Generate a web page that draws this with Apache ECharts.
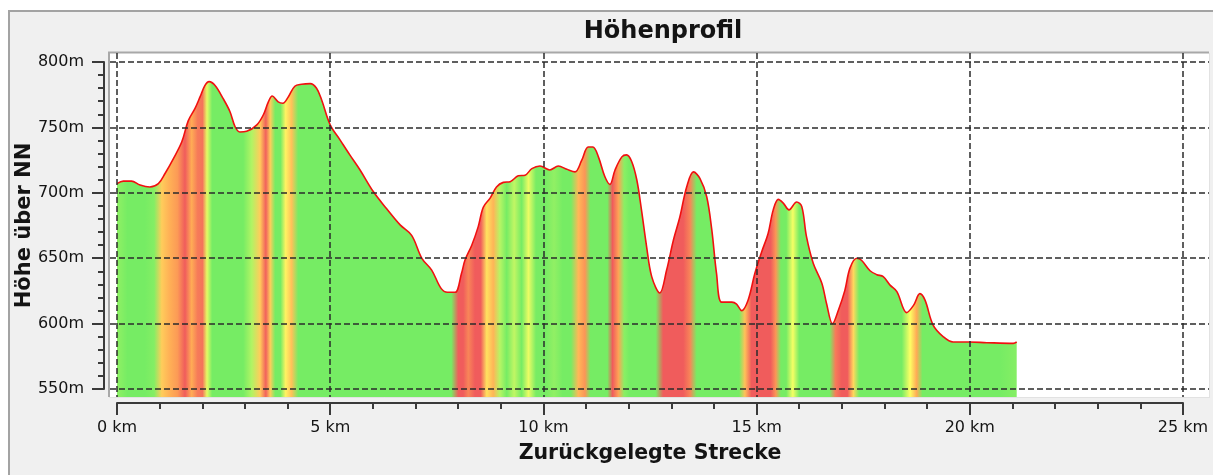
<!DOCTYPE html>
<html>
<head>
<meta charset="utf-8">
<title>Höhenprofil</title>
<script src="https://cdn.jsdelivr.net/npm/echarts@6/dist/echarts.min.js"></script>
<style>
  html, body { margin: 0; padding: 0; background: #fff; }
  #chart { width: 1227px; height: 475px; }
</style>
</head>
<body>
<div id="chart"></div>
<script>
// distance along the track (km) and elevation (m)
const distKm = [
  0.00, 0.15, 0.34, 0.54, 0.77, 0.97, 1.13, 1.32, 1.52, 1.67, 1.83, 1.95, 2.06, 2.16, 2.30,
  2.49, 2.65, 2.77, 2.88, 3.04, 3.28, 3.43, 3.55, 3.64, 3.78, 3.89, 4.02, 4.17, 4.33, 4.53,
  4.68, 4.80, 5.00, 5.23, 5.46, 5.70, 6.01, 6.32, 6.64, 6.91, 7.15, 7.38, 7.60, 7.75, 7.93,
  8.08, 8.16, 8.32, 8.47, 8.59, 8.75, 8.90, 9.06, 9.22, 9.41, 9.57, 9.73, 9.92, 10.15, 10.35,
  10.55, 10.74, 10.90, 11.05, 11.16, 11.29, 11.44, 11.56, 11.68, 11.84, 11.95, 12.07, 12.19, 12.30, 12.42,
  12.54, 12.73, 12.89, 13.05, 13.20, 13.36, 13.52, 13.67, 13.83, 13.95, 14.06, 14.18, 14.42, 14.53, 14.65,
  14.80, 14.96, 15.12, 15.27, 15.39, 15.51, 15.63, 15.76, 15.94, 16.06, 16.17, 16.33, 16.53, 16.64, 16.78,
  16.92, 17.07, 17.19, 17.35, 17.46, 17.66, 17.82, 17.97, 18.13, 18.29, 18.52, 18.68, 18.83, 18.95, 19.14,
  19.38, 19.61, 20.00, 20.40, 21.02, 21.10
]
const elevM = [
  707, 709, 709, 706, 704.5, 707, 715, 726, 739, 755, 764.5, 773.5, 782, 785, 782,
  772, 762, 750.5, 746.5, 747, 752, 759.5, 769.5, 774, 769.5, 768.5, 773.5, 781.5, 783, 783.5,
  780, 771, 752, 740.5, 729, 717.5, 701, 688, 675.5, 667.5, 650, 641, 627, 624, 624,
  638.5, 648.5, 660, 674, 689, 696, 704.5, 708, 708.5, 713, 713.5, 718.5, 720.5, 717.5, 720.5,
  718, 716, 725, 735, 735, 727.5, 712.5, 706.5, 717.5, 727.5, 729, 724, 710, 687, 659,
  636, 623.5, 641, 664, 681.5, 704.5, 716, 711, 697, 671.5, 638.5, 616.5, 616.5, 615, 610,
  618, 638.5, 655, 669, 687, 695, 692, 687, 693, 689.5, 666.5, 646, 631, 615.5, 600,
  610.5, 625.5, 642.5, 650, 648.5, 640.5, 637.5, 636, 629.5, 624.5, 608.5, 614, 623, 618, 599,
  590, 586, 586, 585.5, 585, 586
]
const xTicks = [0, 5, 10, 15, 20, 25]
const yTicks = [550, 600, 650, 700, 750, 800]

const fontFamily = 'DejaVu Sans'
const textColor = '#141414'
const gridDash = { color: '#2b2b2b', width: 1.5, type: [6, 3] }

// colour of the fill follows the climbing grade (%)
const green = [118, 236, 100]
const yellow = [255, 255, 100]
const orange = [255, 170, 85]
const red = [240, 92, 92]

function mix(a, b, t) {
  t = Math.max(0, Math.min(1, t))
  return a.map((v, i) => Math.round(v + (b[i] - v) * t))
}

function gradeColor(g) {
  let c
  if (g <= 1) c = green
  else if (g <= 3.5) c = mix(green, yellow, (g - 1) / 2.5)
  else if (g <= 6) c = mix(yellow, orange, (g - 3.5) / 2.5)
  else c = mix(orange, red, (g - 6) / 2.5)
  return 'rgb(' + c.join(',') + ')'
}

const lastKm = distKm[distKm.length - 1]
const stops = []
for (let i = 0; i < distKm.length - 1; i++) {
  const dx = (distKm[i + 1] - distKm[i]) * 1000
  const grade = ((elevM[i + 1] - elevM[i]) / dx) * 100
  const mid = (distKm[i] + distKm[i + 1]) / 2 / lastKm
  if (i === 0) stops.push({ offset: 0, color: gradeColor(grade) })
  stops.push({ offset: mid, color: gradeColor(grade) })
  if (i === distKm.length - 2) stops.push({ offset: 1, color: gradeColor(grade) })
}

const profile = distKm.map((d, i) => [d, elevM[i]])

const chart = echarts.init(document.getElementById('chart'), null, { renderer: 'canvas' })

const hidden = { axisLine: { show: false, onZero: false }, axisTick: { show: false }, axisLabel: { show: false } }
const gridBase = { outerBoundsMode: 'none', containLabel: false }

chart.setOption({
  backgroundColor: '#ffffff',
  animation: false,
  textStyle: { fontFamily },
  title: {
    text: 'Höhenprofil',
    left: 658,
    top: 15,
    textAlign: 'center',
    textStyle: { fontFamily, fontSize: 24, fontWeight: 'bold', color: textColor },
  },
  graphic: [
    // outer panel
    { type: 'rect', z: -20, shape: { x: 8, y: 10, width: 1205, height: 470 }, style: { fill: '#f0f0f0' } },
    { type: 'line', z: -19, shape: { x1: 8, y1: 11, x2: 1213, y2: 11 }, style: { stroke: '#a3a3a3', lineWidth: 2 } },
    { type: 'line', z: -19, shape: { x1: 9, y1: 10, x2: 9, y2: 475 }, style: { stroke: '#a3a3a3', lineWidth: 2 } },
    // plot area
    { type: 'rect', z: -18, shape: { x: 109, y: 52, width: 1100, height: 345 }, style: { fill: '#ffffff' } },
    { type: 'line', z: -17, shape: { x1: 108, y1: 52.5, x2: 1209, y2: 52.5 }, style: { stroke: '#a8a8a8', lineWidth: 2 } },
    { type: 'line', z: -17, shape: { x1: 109, y1: 52, x2: 109, y2: 397 }, style: { stroke: '#a8a8a8', lineWidth: 2 } },
    { type: 'line', z: -17, shape: { x1: 1209.5, y1: 53, x2: 1209.5, y2: 397 }, style: { stroke: '#e2e2e2', lineWidth: 1 } },
    { type: 'line', z: -17, shape: { x1: 109, y1: 397.5, x2: 1210, y2: 397.5 }, style: { stroke: '#e2e2e2', lineWidth: 1 } },
  ],
  grid: [
    // visible axes
    { ...gridBase, left: 117, top: 62, width: 1066, height: 327 },
    // horizontal dashed lines across the whole plot
    { ...gridBase, left: 110, top: 62, width: 1099, height: 327 },
    // vertical dashed lines
    { ...gridBase, left: 117, top: 53, width: 1066, height: 344 },
    // the profile itself, filled down to the plot bottom
    { ...gridBase, left: 117, top: 62, width: 1066, height: 335 },
  ],
  xAxis: [
    {
      type: 'value',
      gridIndex: 0,
      min: xTicks[0],
      max: xTicks[xTicks.length - 1],
      interval: 5,
      offset: 14,
      name: 'Zurückgelegte Strecke',
      nameLocation: 'middle',
      nameGap: 40,
      nameMoveOverlap: false,
      nameTextStyle: { fontFamily, fontSize: 20.5, fontWeight: 'bold', color: textColor },
      axisLine: { onZero: false, lineStyle: { color: '#3a3a3a', width: 2 } },
      axisTick: { length: 12, lineStyle: { color: '#3a3a3a', width: 2 } },
      minorTick: { show: true, splitNumber: 5, length: 6, lineStyle: { color: '#3a3a3a', width: 2 } },
      axisLabel: {
        margin: 17,
        fontFamily,
        fontSize: 16,
        color: textColor,
        formatter: (v) => v + ' km',
      },
      splitLine: { show: false },
    },
    { type: 'value', gridIndex: 1, min: 0, max: 1, show: true, ...hidden, splitLine: { show: false } },
    {
      type: 'value',
      gridIndex: 2,
      min: xTicks[0],
      max: xTicks[xTicks.length - 1],
      interval: 5,
      z: 5,
      ...hidden,
      splitLine: { show: true, lineStyle: gridDash },
    },
    { type: 'value', gridIndex: 3, min: 0, max: 25, show: false },
  ],
  yAxis: [
    {
      type: 'value',
      gridIndex: 0,
      min: yTicks[0],
      max: yTicks[yTicks.length - 1],
      interval: 50,
      offset: 13,
      name: 'Höhe über NN',
      nameLocation: 'middle',
      nameGap: 69,
      nameMoveOverlap: false,
      nameTextStyle: { fontFamily, fontSize: 21, fontWeight: 'bold', color: textColor },
      axisLine: { show: true, onZero: false, lineStyle: { color: '#3a3a3a', width: 2 } },
      axisTick: { show: true, length: 12, lineStyle: { color: '#3a3a3a', width: 2 } },
      minorTick: { show: true, splitNumber: 5, length: 6, lineStyle: { color: '#3a3a3a', width: 2 } },
      axisLabel: {
        margin: 20,
        fontFamily,
        fontSize: 16,
        color: textColor,
        formatter: (v) => v + 'm',
      },
      splitLine: { show: false },
    },
    {
      type: 'value',
      gridIndex: 1,
      min: yTicks[0],
      max: yTicks[yTicks.length - 1],
      interval: 50,
      z: 5,
      ...hidden,
      splitLine: { show: true, lineStyle: gridDash },
    },
    { type: 'value', gridIndex: 2, min: 0, max: 1, show: true, ...hidden, splitLine: { show: false } },
    { type: 'value', gridIndex: 3, min: 544, max: 800, show: false },
  ],
  series: [
    {
      name: 'Höhe',
      type: 'line',
      xAxisIndex: 3,
      yAxisIndex: 3,
      data: profile,
      smooth: 0.35,
      symbol: 'none',
      z: 2,
      lineStyle: { color: '#f01010', width: 1.6 },
      areaStyle: {
        opacity: 1,
        origin: 'start',
        color: { type: 'linear', x: 0, y: 0, x2: 1, y2: 0, colorStops: stops },
      },
    },
  ],
})
</script>
</body>
</html>
